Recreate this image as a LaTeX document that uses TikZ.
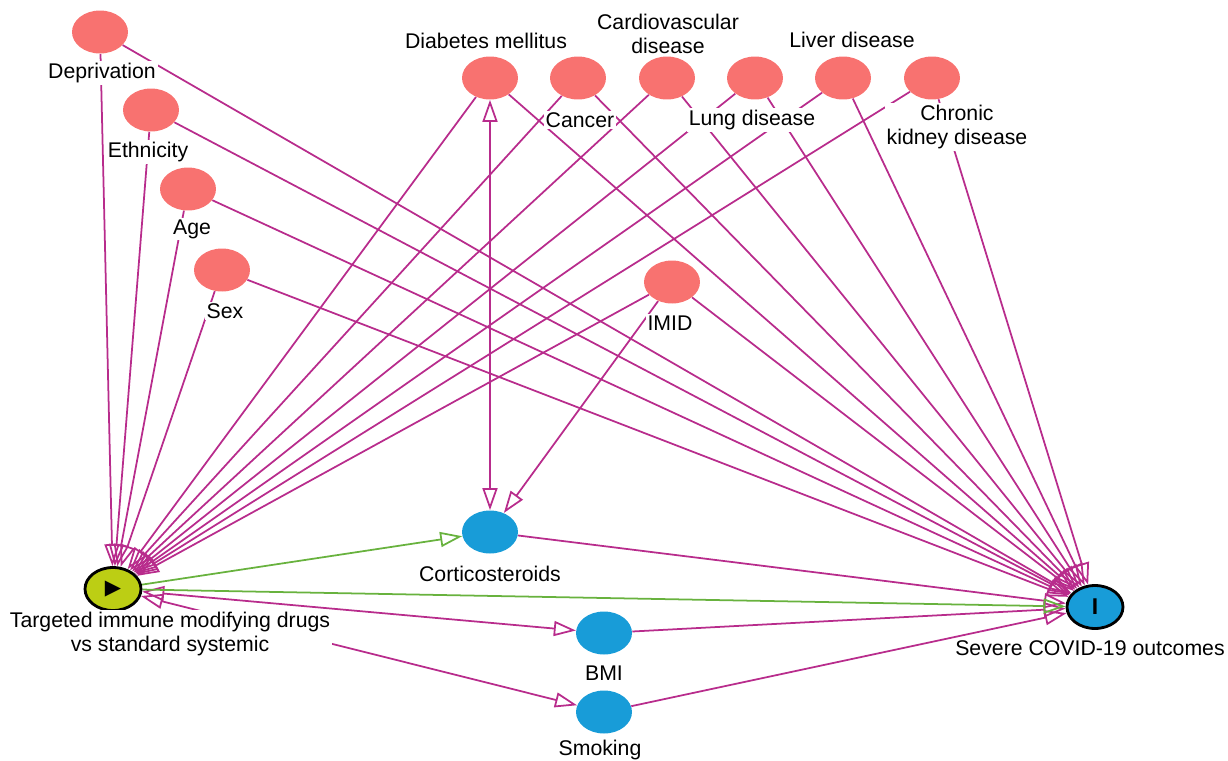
\documentclass[tikz,border=0pt]{standalone}
\usepackage{fontspec}
\setmainfont{Liberation Sans}
\newfontfamily\symfont{DejaVu Sans}
\usetikzlibrary{arrows.meta,shapes.geometric,backgrounds}

\definecolor{confred}{RGB}{248,114,112}
\definecolor{medblue}{RGB}{24,156,216}
\definecolor{expgreen}{RGB}{188,206,20}
\definecolor{pathpink}{RGB}{184,44,140}
\definecolor{causalgreen}{RGB}{104,178,62}

\tikzset{
   >={Triangle[open,length=0.44cm,width=0.3cm]},
   var/.style={ellipse,minimum width=1.12cm,minimum height=0.86cm,inner sep=0pt},
   conf/.style={var,fill=confred},
   med/.style={var,fill=medblue},
   lbl/.style={fill=white,inner sep=1pt,align=center,font=\fontsize{12.1}{13.6}\selectfont},
   bias/.style={draw=pathpink,line width=1pt},
   causal/.style={draw=causalgreen,line width=1pt}
}

\begin{document}
\begin{tikzpicture}[x=0.02cm,y=-0.02cm]
   \useasboundingbox (0,0) rectangle (1228,761);

   \node[conf] (dep) at (100,32) {};
   \node[conf] (eth) at (151,110) {};
   \node[conf] (age) at (188,189) {};
   \node[conf] (sex) at (222,270) {};
   \node[conf] (dm) at (490,78) {};
   \node[conf] (can) at (578,78) {};
   \node[conf] (cvd) at (667,78) {};
   \node[conf] (lung) at (755,78) {};
   \node[conf] (liv) at (843,78) {};
   \node[conf] (ckd) at (932,78) {};
   \node[conf] (imid) at (672,282) {};

   \node[med] (cort) at (490,532) {};
   \node[med] (bmi) at (604,633) {};
   \node[med] (smok) at (604,712) {};

   \node[var,draw=black,line width=1.6pt,fill=expgreen,font=\symfont\fontsize{12}{12}\selectfont] (expo) at (113,589) {▶};
   \node[var,draw=black,line width=1.6pt,fill=medblue,font=\bfseries\fontsize{13}{13}\selectfont] (outc) at (1095,607) {I};

   \node[lbl] (deplbl) at (102,73) {Deprivation};
   \node[lbl] (ethlbl) at (148,152) {Ethnicity};
   \node[lbl] (agelbl) at (192,229) {Age};
   \node[lbl] (sexlbl) at (225,311) {Sex};
   \node[lbl] (dmlbl) at (486,41) {Diabetes mellitus};
   \node[lbl] (canlbl) at (580,120) {Cancer};
   \node[lbl] (cvdlbl) at (668,34) {Cardiovascular\\disease};
   \node[lbl] (lunglbl) at (752,120) {Lung disease};
   \node[lbl] (livlbl) at (852,40) {Liver disease};
   \node[lbl] (ckdlbl) at (957,127) {Chronic\\kidney disease};
   \node[lbl] (imidlbl) at (670,323) {IMID};
   \node[lbl] (cortlbl) at (490,574) {Corticosteroids};
   \node[lbl] (bmilbl) at (604,673) {BMI};
   \node[lbl] (smoklbl) at (600,750) {Smoking};
   \node[lbl] (expolbl) at (170,634) {Targeted immune modifying drugs\\vs standard systemic};
   \node[lbl] (outclbl) at (1090,648) {Severe COVID-19 outcomes};

   \begin{scope}[on background layer]
   \draw[bias,->] (dep) -- (expo);
   \draw[bias,->] (dep) -- (outc);
   \draw[bias,->] (eth) -- (expo);
   \draw[bias,->] (eth) -- (outc);
   \draw[bias,->] (age) -- (expo);
   \draw[bias,->] (age) -- (outc);
   \draw[bias,->] (sex) -- (expo);
   \draw[bias,->] (sex) -- (outc);
   \draw[bias,->] (dm) -- (expo);
   \draw[bias,->] (dm) -- (outc);
   \draw[bias,->] (can) -- (expo);
   \draw[bias,->] (can) -- (outc);
   \draw[bias,->] (cvd) -- (expo);
   \draw[bias,->] (cvd) -- (outc);
   \draw[bias,->] (lung) -- (expo);
   \draw[bias,->] (lung) -- (outc);
   \draw[bias,->] (liv) -- (expo);
   \draw[bias,->] (liv) -- (outc);
   \draw[bias,->] (ckd) -- (expo);
   \draw[bias,->] (ckd) -- (outc);
   \draw[bias,->] (imid) -- (expo);
   \draw[bias,->] (imid) -- (outc);

   \draw[bias,<->] (dm) -- (cort);
   \draw[bias,->] (imid) -- (cort);
   \draw[bias,->] (cort) -- (outc);
   \draw[bias,<->] (expo) -- (bmi);
   \draw[bias,<->] (expo) -- (smok);
   \draw[bias,->] (bmi) -- (outc);
   \draw[bias,->] (smok) -- (outc);

   \draw[causal,->] (expo) -- (cort);
   \draw[causal,->] (expo) -- (outc);
   \end{scope}
\end{tikzpicture}
\end{document}
